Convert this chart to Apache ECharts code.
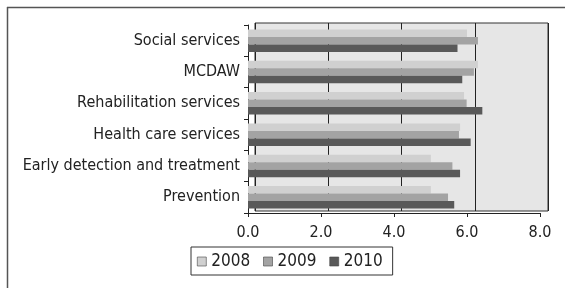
<!DOCTYPE html>
<html>
<head>
<meta charset="UTF-8"/>
<script src="https://cdn.jsdelivr.net/npm/echarts@6/dist/echarts.min.js"></script>
<style>
  html, body { margin: 0; padding: 0; background: #fff; }
  #main { width: 565px; height: 288px; }
</style>
</head>
<body>
<div id="main"></div>
<script type="text/javascript">
    // categories, top to bottom
    var categories = ['Social services', 'MCDAW', 'Rehabilitation services', 'Health care services', 'Early detection and treatment', 'Prevention'];
    var years = ['2008', '2009', '2010'];
    var v2008 = [6.0, 6.3, 5.92, 5.81, 5.01, 5.01];
    var v2009 = [6.3, 6.19, 5.99, 5.78, 5.6, 5.48];
    var v2010 = [5.74, 5.87, 6.42, 6.1, 5.81, 5.65];
    var xTicks = ['0.0', '2.0', '4.0', '6.0', '8.0'];

    var colors = ['#d0d0d0', '#a3a3a3', '#595959'];
    var font = "'DejaVu Sans Condensed', 'DejaVu Sans', sans-serif";

    var myChart = echarts.init(document.getElementById('main'));
    var option = {
        animation: false,
        graphic: [
            // outer frame, top and left edges only
            {type: 'line', shape: {x1: 7, y1: 7.5, x2: 565, y2: 7.5}, style: {stroke: '#555', lineWidth: 1.5}},
            {type: 'line', shape: {x1: 7.5, y1: 7, x2: 7.5, y2: 288}, style: {stroke: '#555', lineWidth: 1.5}}
        ],
        legend: {
            data: years,
            left: 191,
            top: 247,
            itemWidth: 9,
            itemHeight: 9,
            itemGap: 13,
            padding: [6, 10, 5, 6],
            borderColor: '#333',
            borderWidth: 1,
            icon: 'rect',
            itemStyle: {borderColor: '#444', borderWidth: 0.6},
            textStyle: {fontFamily: font, fontSize: 17, color: '#222'}
        },
        grid: [{
            // back wall
            left: 255, right: 17, top: 23, bottom: 77,
            show: true, backgroundColor: '#e6e6e6', borderColor: '#333', borderWidth: 1
        }, {
            left: 248, right: 25, top: 25, bottom: 75
        }],
        xAxis: [{
            gridIndex: 0, type: 'value', min: 0, max: 8, interval: 2,
            axisLine: {show: false}, axisTick: {show: false}, axisLabel: {show: false},
            splitLine: {show: true, lineStyle: {color: '#222', width: 1}}
        }, {
            gridIndex: 1, type: 'value', min: 0, max: 8, interval: 2,
            axisLine: {show: true, lineStyle: {color: '#222'}},
            axisTick: {show: true, length: 4, lineStyle: {color: '#222'}},
            splitLine: {show: false},
            axisLabel: {
                fontFamily: font, fontSize: 16, color: '#222', margin: 12,
                formatter: function (v) { return xTicks[v / 2]; }
            }
        }],
        yAxis: [{
            gridIndex: 0, type: 'category', data: categories, inverse: true,
            axisLine: {show: false}, axisTick: {show: false}, axisLabel: {show: false}
        }, {
            gridIndex: 1, type: 'category', data: categories, inverse: true,
            axisLine: {show: true, lineStyle: {color: '#222'}},
            axisTick: {show: true, length: 4, lineStyle: {color: '#222'}},
            axisLabel: {fontFamily: font, fontSize: 16, color: '#222', margin: 8}
        }],
        series: [
            {name: '2008', type: 'bar', xAxisIndex: 1, yAxisIndex: 1, data: v2008, barWidth: 7.5, barGap: '0%',
             itemStyle: {color: colors[0]}},
            {name: '2009', type: 'bar', xAxisIndex: 1, yAxisIndex: 1, data: v2009, barWidth: 7.5, barGap: '0%',
             itemStyle: {color: colors[1]}},
            {name: '2010', type: 'bar', xAxisIndex: 1, yAxisIndex: 1, data: v2010, barWidth: 7.5, barGap: '0%',
             itemStyle: {color: colors[2]}}
        ]
    };
    myChart.setOption(option);
</script>
</body>
</html>
